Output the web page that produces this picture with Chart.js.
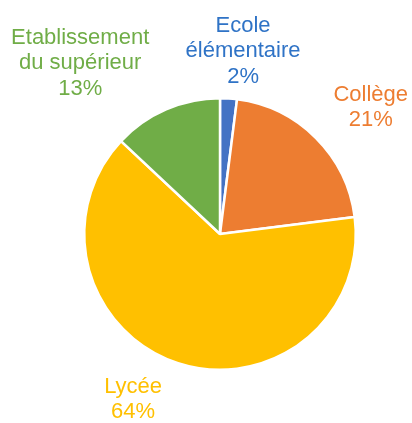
<!DOCTYPE html>
<html>
<head>
<meta charset="utf-8">
<script src="https://cdn.jsdelivr.net/npm/chart.js@4"></script>
<style>
  html, body { margin: 0; padding: 0; background: #fff; }
  #wrap { width: 412px; height: 423px; position: relative; }
</style>
</head>
<body>
<div id="wrap"><canvas id="c"></canvas></div>
<script>
// Categories and shares, clockwise from 12 o'clock.
const labels = ["Ecole élémentaire", "Collège", "Lycée", "Etablissement du supérieur"];
const values = [2, 21, 64, 13];
const sliceColors = ["#4472C4", "#ED7D31", "#FFC000", "#70AD47"];
const textColors = ["#2F73C6", "#ED7D31", "#FFC000", "#70AD47"];
// Label text broken into lines as in the reference.
const labelLines = [
  ["Ecole", "élémentaire"],
  ["Collège"],
  ["Lycée"],
  ["Etablissement", "du supérieur"],
];

const FONT = '"Liberation Sans", Arial, sans-serif';
const LINE_H = 25.5;

// First-baseline anchor of each label block, as offsets from the pie centre (in radii).
const LABEL_POS = [
  { dx: 0.17, dy: -1.49 },
  { dx: 1.11, dy: -0.98 },
  { dx: -0.64, dy: 1.17 },
  { dx: -1.03, dy: -1.40 },
];

const outsideLabels = {
  id: "outsideLabels",
  afterDatasetsDraw(chart) {
    const { ctx } = chart;
    const arc = chart.getDatasetMeta(0).data[0];
    const cx = arc.x, cy = arc.y, r = arc.outerRadius;
    ctx.save();
    ctx.font = `22px ${FONT}`;
    ctx.textAlign = "center";
    ctx.textBaseline = "alphabetic";
    labels.forEach((_, i) => {
      const lines = labelLines[i].concat([values[i] + "%"]);
      const p = LABEL_POS[i];
      const x = cx + p.dx * r;
      const y0 = cy + p.dy * r;
      ctx.fillStyle = textColors[i];
      lines.forEach((ln, j) => ctx.fillText(ln, x, y0 + j * LINE_H));
    });
    ctx.restore();
  },
};

new Chart(document.getElementById("c"), {
  type: "pie",
  data: {
    labels,
    datasets: [{
      data: values,
      backgroundColor: sliceColors,
      borderColor: "#ffffff",
      borderWidth: 2.5,
    }],
  },
  options: {
    responsive: true,
    maintainAspectRatio: false,
    animation: false,
    layout: { padding: { left: 83, right: 55, top: 97, bottom: 52 } },
    plugins: { legend: { display: false }, tooltip: { enabled: false } },
  },
  plugins: [outsideLabels],
});
</script>
</body>
</html>
